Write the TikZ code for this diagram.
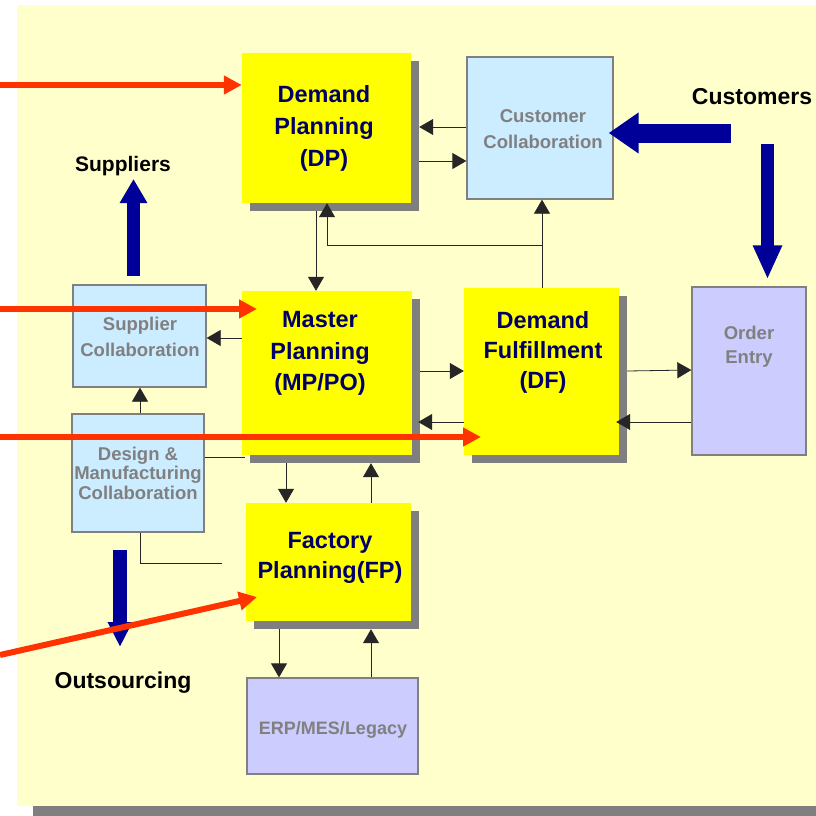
\documentclass[tikz,border=0pt]{standalone}
\usepackage{fontspec}
\setmainfont{Liberation Sans}
\usetikzlibrary{arrows.meta,shadows}

\definecolor{paper}{HTML}{FFFFCC}
\definecolor{boxyellow}{HTML}{FFFF00}
\definecolor{shadowgray}{HTML}{7F7F7F}
\definecolor{collabblue}{HTML}{CCECFF}
\definecolor{sysviolet}{HTML}{CCCCFF}
\definecolor{framegray}{HTML}{808080}
\definecolor{navytext}{HTML}{000066}
\definecolor{flowred}{HTML}{FF3300}
\definecolor{flowblue}{HTML}{000099}

\tikzset{
  planbox/.style={fill=boxyellow, draw=none, inner sep=0pt,
    drop shadow={shadow xshift=8bp, shadow yshift=-8bp, fill=shadowgray, opacity=1}},
  collabbox/.style={fill=collabblue, draw=framegray, line width=1.3bp, inner sep=0pt},
  sysbox/.style={fill=sysviolet, draw=framegray, line width=1.3bp, inner sep=0pt},
  plantext/.style={text=navytext, align=center, inner sep=0pt},
  graytext/.style={text=framegray, align=center, inner sep=0pt},
  outsidetext/.style={text=black, inner sep=0pt},
  conn/.style={draw=black!85, line width=0.8bp, -{Triangle[length=14bp,width=16bp]}},
  plainconn/.style={draw=black!85, line width=0.8bp},
  redflow/.style={draw=flowred, line width=6bp, -{Triangle[length=18bp,width=18bp]}},
}

\begin{document}
\begin{tikzpicture}[x=1bp, y=-1bp]
  \useasboundingbox (0,0) rectangle (816,816);

  % page background with its drop shadow
  \fill[shadowgray] (33,806) rectangle (816,816);
  \fill[paper] (17,5) rectangle (816,806);

  % planning boxes
  \node[planbox, minimum width=169bp, minimum height=150bp] (dp) at (326.5,128) {};
  \node[planbox, minimum width=170bp, minimum height=164bp] (mp) at (327,373) {};
  \node[planbox, minimum width=155bp, minimum height=167bp] (df) at (541.5,371.5) {};
  \node[planbox, minimum width=165bp, minimum height=118bp] (fp) at (328.5,562) {};

  % shadow corners of the planning boxes
  \coordinate (dpse) at ([xshift=8bp, yshift=-8bp]dp.south east);
  \coordinate (mpse) at ([xshift=8bp, yshift=-8bp]mp.south east);
  \coordinate (dfse) at ([xshift=8bp, yshift=-8bp]df.south east);
  \coordinate (fpse) at ([xshift=8bp, yshift=-8bp]fp.south east);

  % collaboration and system boxes
  \node[collabbox, minimum width=146bp, minimum height=142bp] (cc) at (540,128) {};
  \node[collabbox, minimum width=133bp, minimum height=102bp] (sc) at (139.5,336) {};
  \node[collabbox, minimum width=132bp, minimum height=118bp] (dmc) at (138,473) {};
  \node[sysbox, minimum width=114bp, minimum height=168bp] (oe) at (749,371) {};
  \node[sysbox, minimum width=171bp, minimum height=96bp] (erp) at (332.5,726) {};

  % box texts
  \node[plantext, font=\bfseries\fontsize{23.5bp}{32bp}\selectfont] (dptxt) at (324,128) {Demand\\Planning\\(DP)};
  \node[plantext, font=\bfseries\fontsize{23.5bp}{31.5bp}\selectfont] (mptxt) at (320,353.5) {Master\\Planning\\(MP/PO)};
  \node[plantext, font=\bfseries\fontsize{23.5bp}{30bp}\selectfont] (dftxt) at (543,352) {Demand\\Fulfillment\\(DF)};
  \node[plantext, font=\bfseries\fontsize{23.5bp}{30bp}\selectfont] (fptxt) at (330,558) {Factory\\Planning(FP)};
  \node[graytext, font=\bfseries\fontsize{18.5bp}{26bp}\selectfont] (cctxt) at (543,129) {Customer\\Collaboration};
  \node[graytext, font=\bfseries\fontsize{18.5bp}{26bp}\selectfont] (sctxt) at (140,337) {Supplier\\Collaboration};
  \node[graytext, font=\bfseries\fontsize{18.5bp}{19.5bp}\selectfont] (dmctxt) at (138,473) {Design \&\\Manufacturing\\Collaboration};
  \node[graytext, font=\bfseries\fontsize{18.5bp}{24bp}\selectfont] (oetxt) at (749,346.5) {Order\\Entry};
  \node[graytext, font=\bfseries\fontsize{18bp}{22bp}\selectfont] (erptxt) at (333,729.5) {ERP/MES/Legacy};

  % outside parties
  \node[outsidetext, font=\bfseries\fontsize{23bp}{26bp}\selectfont] (cust) at (752,96.5) {Customers};
  \node[outsidetext, font=\bfseries\fontsize{21bp}{24bp}\selectfont] (supp) at (123,166.5) {Suppliers};
  \node[outsidetext, font=\bfseries\fontsize{23bp}{26bp}\selectfont] (outs) at (123,682.5) {Outsourcing};

  % information flows between the boxes
  \draw[conn] (cc.west |- 0,127) -- (dpse |- 0,127);
  \draw[conn] (dpse |- 0,161) -- (cc.west |- 0,161);
  \draw[conn] (542,0 |- df.north) -- (542,0 |- cc.south);
  \draw[conn] (542,245) -- (327,245) -- (327,0 |- dp.south);
  \draw[conn] (316,0 |- dpse) -- (316,0 |- mp.north);
  \draw[conn] (mp.west |- 0,338) -- (sc.east |- 0,338);
  \draw[conn] (mpse |- 0,371) -- (df.west |- 0,371);
  \draw[conn] (df.west |- 0,422) -- ([xshift=-2bp]mpse |- 0,422);
  \draw[conn] (dfse |- 0,371) -- (oe.west |- 0,370);
  \draw[conn] (oe.west |- 0,422) -- ([xshift=-3bp]df.east |- 0,422);
  \draw[conn] (140,0 |- dmc.north) -- (140,0 |- sc.south);
  \draw[plainconn] (dmc.east |- 0,457) -- ([xshift=3bp]mp.south west |- 0,457);
  \coordinate (dmcend) at (222,563);
  \draw[plainconn] (140,0 |- dmc.south) -- (140,0 |- dmcend) -- (dmcend);
  \draw[conn] (286,0 |- mpse) -- (286,0 |- fp.north);
  \draw[conn] (371,0 |- fp.north) -- (371,0 |- mpse);
  \draw[conn] (279,0 |- fpse) -- (279,0 |- erp.north);
  \draw[conn] (371,0 |- erp.north) -- (371,0 |- fpse);

  % flows to and from outside parties
  \coordinate (custfrom) at (731,133);
  \draw[flowblue, line width=19bp, -{Triangle[length=30bp,width=39bp]}] (custfrom) -- ([xshift=-5bp]cc.east |- custfrom);
  \coordinate (custdown) at (767.5,144);
  \draw[flowblue, line width=13bp, -{Triangle[length=34bp,width=27bp]}] (custdown) -- ([yshift=7bp]custdown |- oe.north);
  \coordinate (suppfrom) at (133.5,276);
  \coordinate (suppto) at (133.5,179);
  \draw[flowblue, line width=13bp, -{Triangle[length=24bp,width=26bp]}] (suppfrom) -- (suppto);
  \coordinate (outsfrom) at (120,550);
  \coordinate (outsto) at (120,647);
  \draw[flowblue, line width=14bp, -{Triangle[length=25bp,width=23bp]}] (outsfrom) -- (outsto);

  % incoming planning inputs
  \coordinate (in1) at (0,85);
  \coordinate (in2) at (0,309);
  \coordinate (in3) at (0,437);
  \coordinate (in4) at (0,655);
  \coordinate (in2end) at (257,309);
  \coordinate (in3end) at (481,437);
  \coordinate (in4end) at (257,597);
  \draw[redflow] (in1) -- (dp.west |- in1);
  \draw[redflow] (in2) -- (in2end);
  \draw[redflow] (in3) -- (in3end);
  \draw[redflow] (in4) -- (in4end);
\end{tikzpicture}
\end{document}
